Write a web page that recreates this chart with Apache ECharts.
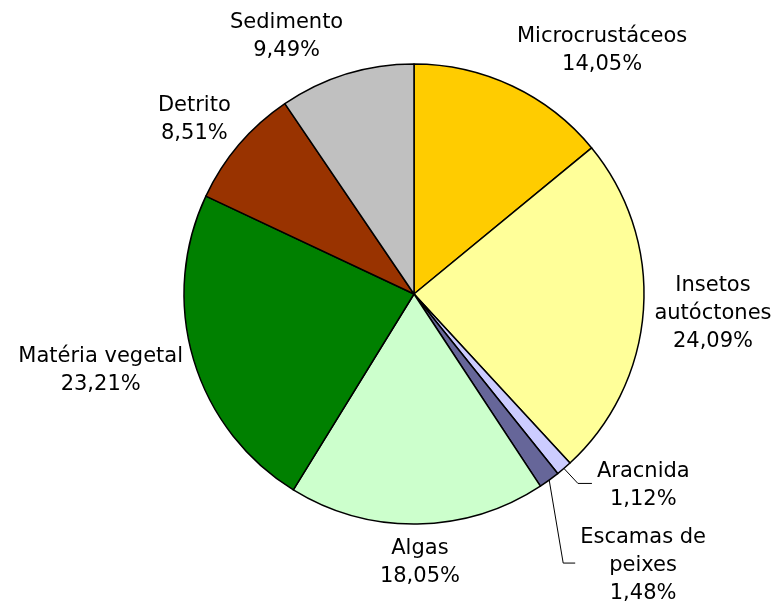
<!DOCTYPE html>
<html>
<head>
<meta charset="utf-8">
<script src="https://cdn.jsdelivr.net/npm/echarts@6/dist/echarts.min.js"></script>
<style>
  html, body { margin: 0; padding: 0; background: #fff; }
  #chart { width: 781px; height: 604px; }
</style>
</head>
<body>
<div id="chart"></div>
<script>
var categories = ['Microcrustáceos', 'Insetos\nautóctones', 'Aracnida', 'Escamas de\npeixes',
                  'Algas', 'Matéria vegetal', 'Detrito', 'Sedimento'];
var percents = [14.05, 24.09, 1.12, 1.48, 18.05, 23.21, 8.51, 9.49];
var colors = ['#FFCC00', '#FFFF99', '#CCCCFF', '#666699', '#CCFFCC', '#008000', '#993300', '#C0C0C0'];

var cx = 414, cy = 294, R = 230;
// moved labels with elbow leader: [elbow dx, elbow dy, end dx]
var leaders = { 2: [14, 15, 28], 3: [14, 83, 26] };

var total = percents.reduce(function (a, b) { return a + b; }, 0);
function midAngle(i) {
    var s = 0;
    for (var k = 0; k < i; k++) s += percents[k];
    return (s + percents[i] / 2) / total * Math.PI * 2;
}

var data = categories.map(function (name, i) {
    return {
        name: name,
        value: percents[i],
        itemStyle: { color: colors[i] },
        labelLine: { show: !!leaders[i] }
    };
});

var option = {
    animation: false,
    backgroundColor: '#fff',
    series: [{
        type: 'pie',
        center: [cx, cy],
        radius: R,
        startAngle: 90,
        clockwise: true,
        avoidLabelOverlap: false,
        data: data,
        itemStyle: { borderColor: '#000', borderWidth: 1.5 },
        label: {
            show: true,
            position: 'outside',
            color: '#000',
            fontFamily: 'DejaVu Sans',
            fontSize: 21,
            lineHeight: 28,
            formatter: function (p) {
                return p.name + '\n' + p.value.toFixed(2).replace('.', ',') + '%';
            }
        },
        labelLine: {
            lineStyle: { color: '#000', width: 1 }
        },
        labelLayout: function (p) {
            var a = midAngle(p.dataIndex);
            var s = Math.sin(a), c = Math.cos(a);
            var w = p.labelRect.width, h = p.labelRect.height;
            var ld = leaders[p.dataIndex];
            if (ld) {
                var ex = cx + R * s, ey = cy - R * c;
                var pts = [[ex, ey], [ex + ld[0], ey + ld[1]], [ex + ld[2], ey + ld[1]]];
                return {
                    x: pts[2][0] + 5 + w / 2,
                    y: pts[2][1] + 2,
                    align: 'center',
                    verticalAlign: 'middle',
                    labelLinePoints: pts
                };
            }
            var r = R + 11;
            var ax = cx + r * s, ay = cy - r * c;
            var f = 0.5 - Math.max(-1, Math.min(1, s * 4)) / 2;
            var left = ax - f * w;
            var top = ay - h * (1 + c) / 2;
            return { x: left + w / 2, y: top, align: 'center', verticalAlign: 'top' };
        }
    }]
};

var myChart = echarts.init(document.getElementById('chart'));
myChart.setOption(option);
</script>
</body>
</html>
